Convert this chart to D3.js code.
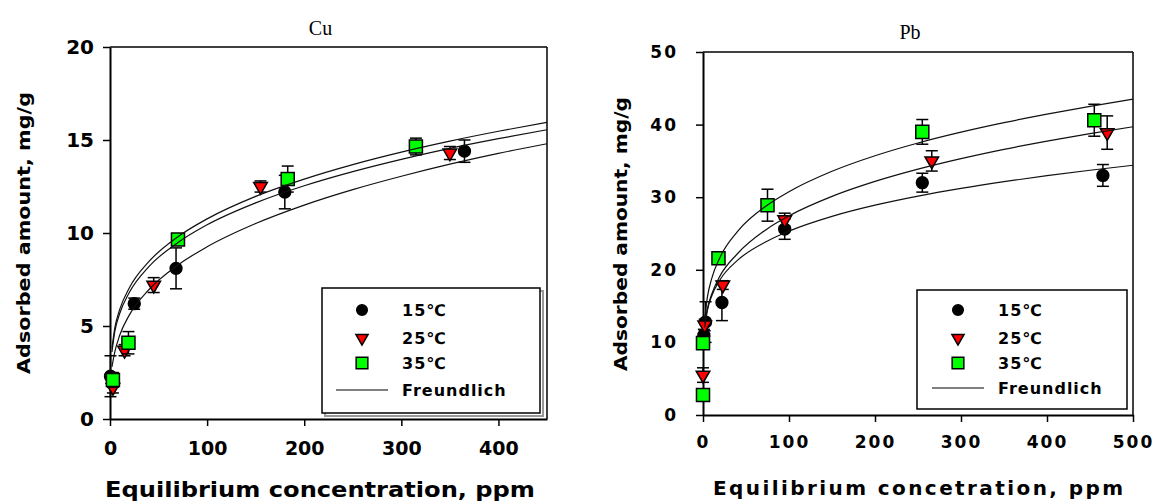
<!DOCTYPE html>
<html>
<head>
<meta charset="utf-8">
<script src="https://cdn.jsdelivr.net/npm/d3@7"></script>
<style>
  body { margin: 0; background: #fff; }
  svg { display: block; }
  .tick text { font-family: "DejaVu Sans", sans-serif; font-weight: bold; }
</style>
</head>
<body>
<div id="chart"></div>
<script>

// ---- Cu data ----
var cuC15 = [0.5, 25, 68, 180, 365];
var cuQ15 = [2.3, 6.2, 8.1, 12.2, 14.4];
var cuE15 = [1.1, 0.3, 1.1, 0.9, 0.6];
var cuC25 = [3, 15, 45, 155, 350];
var cuQ25 = [1.7, 3.7, 7.2, 12.5, 14.3];
var cuE25 = [0.3, 0.3, 0.4, 0.3, 0.35];
var cuC35 = [3, 19, 70, 183, 315];
var cuQ35 = [2.1, 4.1, 9.65, 12.9, 14.65];
var cuE35 = [0.4, 0.6, 0.3, 0.7, 0.45];

// Freundlich fit lines, read at these concentrations
var cuFitC = [2, 5, 10, 20, 40, 70, 100, 150, 200, 250, 300, 350, 400, 450];
var cuFit15 = [2.8, 3.62, 4.5, 5.6, 6.95, 8.28, 9.26, 10.51, 11.5, 12.33, 13.05, 13.7, 14.28, 14.8];
var cuFit25 = [3.6, 4.72, 5.67, 6.81, 8.19, 9.49, 10.44, 11.62, 12.54, 13.3, 13.96, 14.55, 15.07, 15.55];
var cuFit35 = [3.8, 4.91, 5.89, 7.06, 8.46, 9.8, 10.76, 11.97, 12.9, 13.68, 14.35, 14.94, 15.47, 15.95];

var cuXTicks = [0, 100, 200, 300, 400];
var cuYTicks = [0, 5, 10, 15, 20];

// ---- Pb data ----
var pbC15 = [0, 1, 3, 22, 95, 255, 465];
var pbQ15 = [2.8, 11.0, 12.8, 15.5, 25.6, 32.0, 33.0];
var pbE15 = [0.4, 0.8, 2.8, 2.5, 1.4, 1.3, 1.5];
var pbC25 = [0, 2, 23, 95, 266, 470];
var pbQ25 = [5.5, 12.4, 17.9, 26.9, 35.0, 38.9];
var pbE25 = [1.0, 0.8, 0.6, 0.9, 1.4, 2.3];
var pbC35 = [0, 0, 18, 75, 255, 455];
var pbQ35 = [2.75, 9.9, 21.6, 28.9, 39.0, 40.6];
var pbE35 = [0.3, 0.5, 0.5, 2.2, 1.7, 2.2];

var pbFitC = [2, 5, 10, 20, 40, 75, 100, 150, 200, 250, 300, 350, 400, 450, 500];
var pbFit15 = [12.05, 14.34, 16.36, 18.66, 21.29, 23.98, 25.33, 27.36, 28.9, 30.15, 31.21, 32.14, 32.97, 33.71, 34.4];
var pbFit25 = [12.6, 14.6, 16.6, 19.2, 22.21, 25.67, 27.43, 30.11, 32.17, 33.86, 35.31, 36.59, 37.73, 38.76, 39.7];
var pbFit35 = [13.27, 16.16, 18.75, 21.77, 25.26, 28.92, 30.76, 33.57, 35.71, 37.47, 38.96, 40.27, 41.44, 42.51, 43.5];

var pbXTicks = [0, 100, 200, 300, 400, 500];
var pbYTicks = [0, 10, 20, 30, 40, 50];

var legendLabels = ["15\u2103", "25\u2103", "35\u2103", "Freundlich"];

var svg = d3.select("#chart").append("svg")
    .attr("width", 1154)
    .attr("height", 501);

// zip helpers
function pts(c, q, e) {
  return c.map(function(d, i) { return {c: d, q: q[i], e: e ? e[i] : 0}; });
}

// marker shapes
var markers = [
  {type: d3.symbolCircle, size: 110, fill: "#000"},
  {type: d3.symbolTriangle, size: 80, fill: "#ff0000", rot: 180},
  {type: d3.symbolSquare, size: 170, fill: "#00ff00"}
];

function drawPanel(p) {
  var g = svg.append("g");

  var x = d3.scaleLinear().domain(p.xDomain).range([p.left, p.right]);
  var y = d3.scaleLinear().domain(p.yDomain).range([p.bottom, p.top]);

  // title
  g.append("text")
    .attr("x", (p.left + p.right) / 2 - 8)
    .attr("y", p.titleY)
    .attr("text-anchor", "middle")
    .style("font-family", "'Liberation Serif', serif")
    .style("font-size", "20px")
    .text(p.title);

  // frame: top and right thin
  g.append("line").attr("x1", p.left).attr("x2", p.right).attr("y1", p.top).attr("y2", p.top)
    .attr("stroke", "#000").attr("stroke-width", 1.5);
  g.append("line").attr("x1", p.right).attr("x2", p.right).attr("y1", p.top).attr("y2", p.bottom)
    .attr("stroke", "#000").attr("stroke-width", 1.5);

  // axes
  var xAxis = g.append("g")
    .attr("transform", "translate(0," + p.bottom + ")")
    .call(d3.axisBottom(x).tickValues(p.xTicks).tickSize(7).tickSizeOuter(0).tickPadding(p.xPad));
  xAxis.selectAll("text").style("font-size", p.xTickFont + "px").style("letter-spacing", p.xTickSpacing + "px");

  var yAxis = g.append("g")
    .attr("transform", "translate(" + p.left + ",0)")
    .call(d3.axisLeft(y).tickValues(p.yTicks).tickSize(7).tickSizeOuter(0).tickPadding(p.yPad));
  yAxis.selectAll("text").style("font-size", p.yTickFont + "px").style("letter-spacing", p.yTickSpacing + "px");

  g.selectAll(".domain").attr("stroke-width", 2);
  g.selectAll(".tick line").attr("stroke-width", 1.5);

  // axis titles
  g.append("text")
    .attr("x", p.xTitleX)
    .attr("y", p.xTitleY)
    .attr("text-anchor", "middle")
    .attr("textLength", p.xTitleLen)
    .attr("lengthAdjust", p.xTitleAdjust)
    .style("font-family", "'DejaVu Sans', sans-serif")
    .style("font-weight", "bold")
    .style("font-size", p.xTitleFont + "px")
    .text(p.xTitle);

  g.append("text")
    .attr("transform", "translate(" + p.yTitleX + "," + p.yTitleY + ") rotate(-90)")
    .attr("text-anchor", "middle")
    .attr("textLength", p.yTitleLen)
    .attr("lengthAdjust", "spacingAndGlyphs")
    .style("font-family", "'DejaVu Sans', sans-serif")
    .style("font-weight", "bold")
    .style("font-size", "18px")
    .text("Adsorbed amount, mg/g");

  // data series: error bars then markers
  p.series.forEach(function(s, k) {
    var m = markers[k];
    var sg = g.append("g");
    var eb = sg.selectAll(".eb").data(s).enter().append("g");
    eb.append("line")
      .attr("x1", function(d) { return x(d.c); })
      .attr("x2", function(d) { return x(d.c); })
      .attr("y1", function(d) { return y(d.q - d.e); })
      .attr("y2", function(d) { return y(d.q + d.e); })
      .attr("stroke", "#000").attr("stroke-width", 1.5);
    [-1, 1].forEach(function(sgn) {
      eb.append("line")
        .attr("x1", function(d) { return x(d.c) - 6; })
        .attr("x2", function(d) { return x(d.c) + 6; })
        .attr("y1", function(d) { return y(d.q + sgn * d.e); })
        .attr("y2", function(d) { return y(d.q + sgn * d.e); })
        .attr("stroke", "#000").attr("stroke-width", 1.5);
    });
    sg.selectAll(".mk").data(s).enter().append("path")
      .attr("d", d3.symbol().type(m.type).size(m.size))
      .attr("transform", function(d) {
        return "translate(" + x(d.c) + "," + y(d.q) + ")" + (m.rot ? " rotate(" + m.rot + ")" : "");
      })
      .attr("fill", m.fill)
      .attr("stroke", "#000")
      .attr("stroke-width", 1.5);
  });

  // fitted curves on top
  var line = d3.line()
    .x(function(d) { return x(d.c); })
    .y(function(d) { return y(d.q); })
    .curve(d3.curveMonotoneX);
  p.fits.forEach(function(f) {
    g.append("path")
      .datum(f)
      .attr("d", line)
      .attr("fill", "none")
      .attr("stroke", "#111")
      .attr("stroke-width", 1.2);
  });

  // legend
  var L = p.legend;
  if (L.shadow) {
    g.append("rect")
      .attr("x", L.x + 3).attr("y", L.y + 3).attr("width", L.w).attr("height", L.h)
      .attr("fill", "none").attr("stroke", "#999").attr("stroke-width", 2);
  }
  g.append("rect")
    .attr("x", L.x).attr("y", L.y).attr("width", L.w).attr("height", L.h)
    .attr("fill", "#fff").attr("stroke", "#000").attr("stroke-width", 1.5);

  legendLabels.forEach(function(lab, i) {
    var ry = L.y + L.rows[i];
    if (i < 3) {
      var m = markers[i];
      g.append("path")
        .attr("d", d3.symbol().type(m.type).size(m.size * 0.8))
        .attr("transform", "translate(" + (L.x + L.symX) + "," + ry + ")" + (m.rot ? " rotate(" + m.rot + ")" : ""))
        .attr("fill", m.fill).attr("stroke", "#000").attr("stroke-width", 1.5);
    } else {
      g.append("line")
        .attr("x1", L.x + L.symX - 26).attr("x2", L.x + L.symX + 26)
        .attr("y1", ry).attr("y2", ry)
        .attr("stroke", "#000").attr("stroke-width", 1.2);
    }
    g.append("text")
      .attr("x", L.x + L.textX)
      .attr("y", ry)
      .attr("dy", "0.35em")
      .style("font-family", "'DejaVu Sans', 'Noto Sans CJK SC', sans-serif")
      .style("font-weight", "bold")
      .style("font-size", "16px")
      .style("letter-spacing", "1px")
      .text(lab);
  });
}

drawPanel({
  title: "Cu", titleY: 35,
  left: 110, right: 547, top: 47, bottom: 419,
  xDomain: [0, 450], yDomain: [0, 20],
  xTicks: cuXTicks, yTicks: cuYTicks,
  xTickFont: 19, xTickSpacing: 0, xPad: 16, yTickFont: 20, yTickSpacing: 0, yPad: 9,
  xTitle: "Equilibrium concentration, ppm", xTitleX: 320, xTitleY: 497, xTitleLen: 430,
  xTitleAdjust: "spacingAndGlyphs", xTitleFont: 21,
  yTitleX: 30, yTitleY: 233, yTitleLen: 282,
  series: [pts(cuC15, cuQ15, cuE15), pts(cuC25, cuQ25, cuE25), pts(cuC35, cuQ35, cuE35)],
  fits: [pts(cuFitC, cuFit15), pts(cuFitC, cuFit25), pts(cuFitC, cuFit35)],
  legend: {x: 322, y: 288, w: 218, h: 125, shadow: true, symX: 40, textX: 80, rows: [22, 50, 75, 102]}
});

drawPanel({
  title: "Pb", titleY: 39,
  left: 703, right: 1133, top: 52, bottom: 415,
  xDomain: [0, 500], yDomain: [0, 50],
  xTicks: pbXTicks, yTicks: pbYTicks,
  xTickFont: 17, xTickSpacing: 2, xPad: 14, yTickFont: 17, yTickSpacing: 2, yPad: 18,
  xTitle: "Equilibrium concetration, ppm", xTitleX: 918, xTitleY: 495, xTitleLen: 410,
  xTitleAdjust: "spacing", xTitleFont: 20,
  yTitleX: 627, yTitleY: 234, yTitleLen: 274,
  series: [pts(pbC15, pbQ15, pbE15), pts(pbC25, pbQ25, pbE25), pts(pbC35, pbQ35, pbE35)],
  fits: [pts(pbFitC, pbFit15), pts(pbFitC, pbFit25), pts(pbFitC, pbFit35)],
  legend: {x: 917, y: 290, w: 210, h: 119, shadow: false, symX: 41, textX: 81, rows: [20, 48, 73, 98]}
});

</script>
</body>
</html>
